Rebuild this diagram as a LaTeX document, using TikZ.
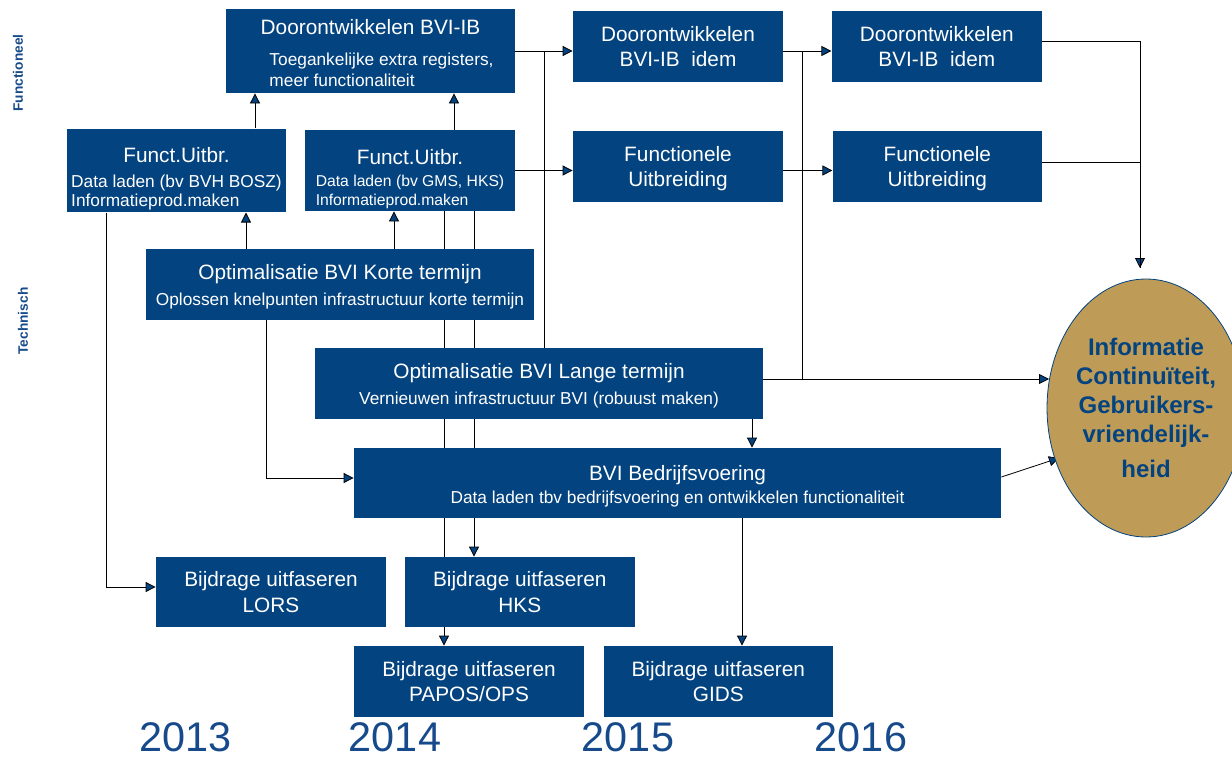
\documentclass[tikz,border=0pt]{standalone}
\usepackage{fontspec}
\setmainfont{Liberation Sans}
\usepackage{tikz}
\usetikzlibrary{arrows.meta}
\usetikzlibrary{shapes.geometric}
\usetikzlibrary{positioning}
\usetikzlibrary{calc, backgrounds}
\usepackage{xcolor}

\definecolor{bviblauw}{RGB}{3,67,128}
\definecolor{jaarblauw}{RGB}{22,74,138}
\definecolor{oker}{RGB}{190,155,86}

\newcommand{\kop}{\fontsize{10.4}{12.75}\selectfont}
\newcommand{\klein}{\fontsize{8.65}{10.5}\selectfont}

\begin{document}
\begin{tikzpicture}[
        x=0.5pt, y=-0.5pt,
        blok/.style={rectangle, fill=bviblauw, text=white, inner sep=0pt, align=center, font=\kop, minimum width=115pt, minimum height=35.5pt},
        doel/.style={ellipse, fill=oker, draw=bviblauw, thin, minimum width=85pt, minimum height=129pt, inner sep=0pt, align=center, text=bviblauw, font=\fontsize{12}{14.5}\selectfont\bfseries},
        jaar/.style={text=jaarblauw, inner sep=0pt, font=\fontsize{20.7}{24}\selectfont},
        as/.style={text=jaarblauw, font=\fontsize{6.85}{8}\selectfont\bfseries, rotate=90},
        lijn/.style={draw=bviblauw, line width=1.2pt},
        >={Triangle[length=5pt,width=5pt]}
    ]
        \useasboundingbox (0,0) rectangle (1232,760);

        \node[as] (functioneel) at (18,73) {Functioneel};
        \node[as] (technisch) at (23,321) {Technisch};

        \node[blok, minimum width=144.5pt, minimum height=40pt] (ontw) at (370.5,51) {\rule{0pt}{12.6pt}Doorontwikkelen BVI-IB\\[3pt]\hspace*{11pt}{\klein\begin{tabular}[t]{@{}l@{}}Toegankelijke extra registers,\\meer functionaliteit\end{tabular}}};
        \node[blok, minimum width=109.5pt, minimum height=40.5pt] (fu1) at (176.5,170.5) {\rule{0pt}{17pt}Funct.Uitbr.\\[-0.5pt]{\klein\renewcommand{\arraystretch}{0.905}\begin{tabular}[t]{@{}l@{}}Data laden (bv BVH BOSZ)\\Informatieprod.maken\end{tabular}}};
        \node[blok, minimum width=105pt, minimum height=40.5pt] (fu2) at (410,170.5) {\rule{0pt}{17pt}Funct.Uitbr.\\[-1.5pt]{\fontsize{7.85}{9.2}\selectfont\begin{tabular}[t]{@{}l@{}}Data laden (bv GMS, HKS)\\Informatieprod.maken\end{tabular}}};

        \node[blok, minimum width=105pt] (idemA) at (678,46.5) {Doorontwikkelen\\BVI-IB\ \ idem};
        \node[blok, minimum width=105pt] (idemB) [right=24pt of idemA] {Doorontwikkelen\\BVI-IB\ \ idem};
        \node[blok, minimum width=105pt] (uitbrA) [below=24pt of idemA] {\rule{0pt}{10pt}Functionele\\Uitbreiding};
        \node[blok, minimum width=104.5pt] (uitbrB) [right=24.5pt of uitbrA] {\rule{0pt}{10pt}Functionele\\Uitbreiding};

        \node[blok, minimum width=194pt] (kort) at (340,284.5) {\rule{0pt}{10pt}Optimalisatie BVI Korte termijn\\{\klein Oplossen knelpunten infrastructuur korte termijn}};
        \node[blok, minimum width=224pt] (lang) at (539,383.5) {\rule{0pt}{10pt}Optimalisatie BVI Lange termijn\\{\klein Vernieuwen infrastructuur BVI (robuust maken)}};
        \node[blok, minimum width=323.5pt, minimum height=35pt] (bedr) at (677.5,483) {\rule{0pt}{11pt}BVI Bedrijfsvoering\\[-1pt]{\klein Data laden tbv bedrijfsvoering en ontwikkelen functionaliteit}};

        \node[blok, minimum height=35pt] (lors) at (271,592) {Bijdrage uitfaseren\\LORS};
        \node[blok, minimum height=35pt] (hks) [right=9pt of lors] {Bijdrage uitfaseren\\HKS};
        \node[blok] (papos) at (469,681.5) {Bijdrage uitfaseren\\PAPOS/OPS};
        \node[blok, minimum width=114.5pt] (gids) [right=9.5pt of papos] {Bijdrage uitfaseren\\GIDS};

        \node[doel] (ell) at (1146,408) {Informatie\\Continuïteit,\\Gebruikers-\\vriendelijk-\\[3pt]heid};

        \node[jaar] (j2013) at (185.5,737) {2013};
        \node[jaar] (j2014) at (395,737) {2014};
        \node[jaar] (j2015) at (628,737) {2015};
        \node[jaar] (j2016) at (861,737) {2016};

        \coordinate (inEll) at (1049,379);
        \coordinate (inTop) at (1140,268);
        \coordinate (inLow) at (1059,458);

        % verbindingen achter de blokken
        \begin{scope}[on background layer, lijn]
            \draw[->] (kort.north -| 246,0) -- (fu1.south -| 246,0);
            \draw[->] (kort.north -| 394,0) -- (fu2.south -| 394,0);
            \draw[->] (fu1.north -| 255,0) -- (ontw.south -| 255,0);
            \draw[->] (fu2.north -| 454,0) -- (ontw.south -| 454,0);
            \draw[->] (fu2.south -| 444,0) -- (papos.north -| 444,0);
            \draw[->] (fu2.south -| 474,0) -- (hks.north -| 474,0);
            \draw[->] (fu1.south -| 106,0) |- ($(lors.west)+(0,-5)$);
            \draw[->] (kort.south -| 266,0) |- ($(bedr.west)+(0,-5)$);
            \draw[->] (lang.south -| 752,0) -- (bedr.north -| 752,0);
            \draw[->] (bedr.south -| 742,0) -- (gids.north -| 742,0);

            \draw[->] (ontw.east) -- (ontw.east -| idemA.west);
            \draw[->] (ontw.east -| idemA.east) -- (ontw.east -| idemB.west);
            \draw[->] (fu2.east) -- (fu2.east -| uitbrA.west);
            \draw[->] (fu2.east -| uitbrA.east) -- (fu2.east -| uitbrB.west);
            \draw (ontw.east -| 544,0) -- (lang.north -| 544,0);
            \draw (ontw.east -| 802,0) -- (inEll -| 802,0);
            \draw[->] (lang.east |- inEll) -- (inEll);
            \draw[->] ($(idemB.east)+(0,-5.5)$) -| (inTop);
            \draw ($(uitbrB.east)+(0,-3.5)$) -| (inTop);
            \draw[->] ($(bedr.east)+(0,-6)$) -- (inLow);
        \end{scope}
    \end{tikzpicture}
\end{document}
